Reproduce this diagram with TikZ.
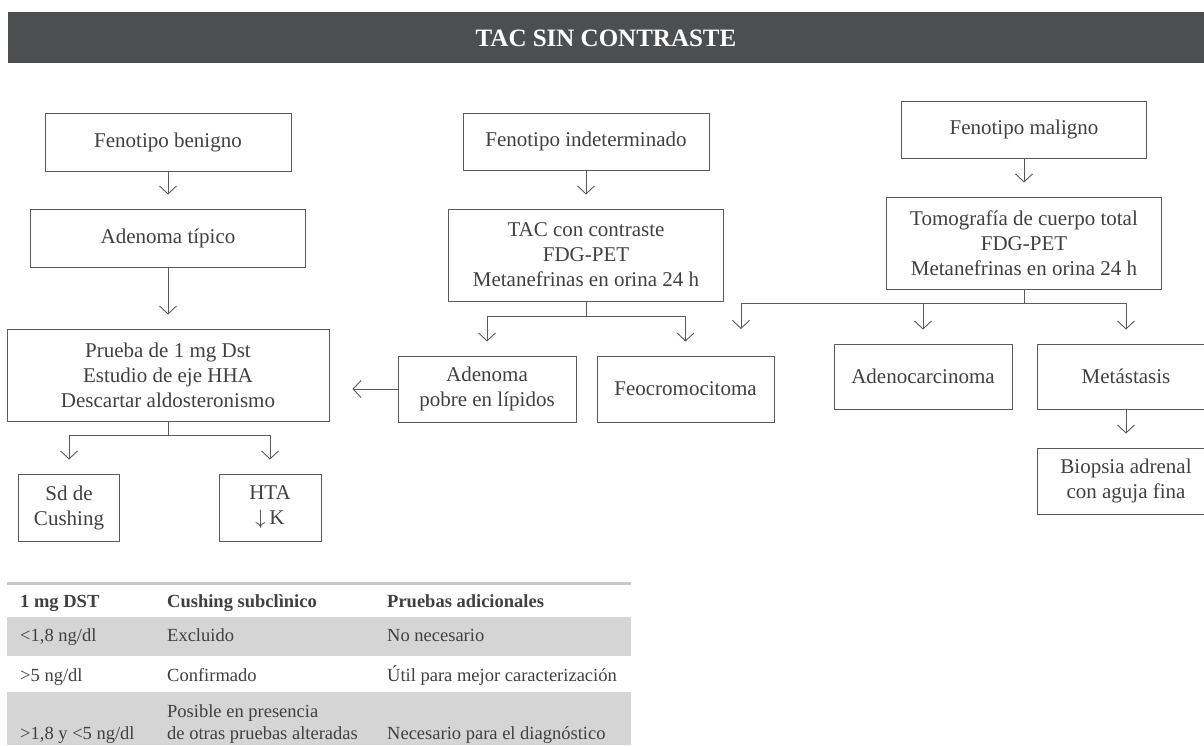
\documentclass[tikz,border=0pt]{standalone}
\usepackage{fontspec}
\setmainfont{Liberation Serif}
\usepackage{tikz}
\usetikzlibrary{arrows.meta,positioning,calc}
\definecolor{textgray}{HTML}{404040}
\definecolor{linegray}{HTML}{5A5A5A}
\definecolor{barfill}{HTML}{4D4E50}
\definecolor{rowfill}{HTML}{D5D5D5}
\definecolor{rulegray}{HTML}{C8C8C8}

\begin{document}
\begin{tikzpicture}[x=1pt,y=-1pt,
  caja/.style={draw=linegray,line width=0.9pt,text=textgray,align=center,inner sep=0pt,font=\fontsize{21}{25}\selectfont},
  flecha/.style={draw=linegray,line width=0.9pt,-{Straight Barb[length=8pt,width=17pt]},shorten >=14pt},
  celda/.style={anchor=base west,inner sep=0pt,text=textgray,align=left,font=\fontsize{18.5}{22}\selectfont}]
\useasboundingbox (0,0) rectangle (1204,745);
\clip (0,0) rectangle (1204,745);
\fill[barfill] (8,12) rectangle (1204,63);
\node[text=white,font=\fontsize{25}{30}\selectfont\bfseries] (titulo) at (606,38) {TAC SIN CONTRASTE};

\node[caja,minimum width=246pt,minimum height=58pt] (benigno) at (168,142) {Fenotipo benigno};
\node[caja,minimum width=275pt,minimum height=58pt] (tipico) at (168,238) {Adenoma típico};
\node[caja,minimum width=322pt,minimum height=92pt] (prueba) at (168,375) {Prueba de 1 mg Dst\\Estudio de eje HHA\\Descartar aldosteronismo};
\node[caja,minimum width=101pt,minimum height=67pt] (cushing) at (69,507.5) {Sd de\\Cushing};
\node[caja,minimum width=102pt,minimum height=67pt] (hta) at (270,507.5) {HTA\\$\downarrow$\,K};

\node[caja,minimum width=246pt,minimum height=57pt] (indet) at (586,141.5) {Fenotipo indeterminado};
\node[caja,minimum width=275pt,minimum height=92pt] (tac) at (586,255) {TAC con contraste\\FDG-PET\\Metanefrinas en orina 24 h};
\node[caja,minimum width=178pt,minimum height=66pt] (pobre) at (487,389) {Adenoma\\pobre en lípidos};
\node[caja,minimum width=177pt,minimum height=66pt] (feo) at (685.5,389) {Feocromocitoma};

\node[caja,minimum width=245pt,minimum height=57pt] (maligno) at (1024,129.5) {Fenotipo maligno};
\node[caja,minimum width=275pt,minimum height=92pt] (tomo) at (1024,243) {Tomografía de cuerpo total\\FDG-PET\\Metanefrinas en orina 24 h};
\node[caja,minimum width=178pt,minimum height=65pt] (adeno) at (923,376.5) {Adenocarcinoma};
\node[caja,minimum width=178pt,minimum height=65pt] (meta) at (1126,376.5) {Metástasis};
\node[caja,minimum width=178pt,minimum height=66pt] (biopsia) at (1126,481) {Biopsia adrenal\\con aguja fina};
\coordinate (libre) at (741,343);

\draw[flecha] (benigno) -- (tipico);
\draw[flecha] (tipico) -- (prueba);
\draw[flecha] (prueba.south) -- ++(0,14) -| (cushing.north);
\draw[flecha] (prueba.south) -- ++(0,14) -| (hta.north);
\draw[flecha,shorten >=23pt] (pobre.west) -- (pobre.west -| prueba.east);

\draw[flecha] (indet) -- (tac);
\draw[flecha] (tac.south) -- ++(0,15) -| (pobre.north);
\draw[flecha] (tac.south) -- ++(0,15) -| (feo.north);

\draw[flecha] (maligno) -- (tomo);
\draw[flecha] (tomo.south) -- ++(0,14) -| (libre);
\draw[flecha] (tomo.south) -- ++(0,14) -| (adeno.north);
\draw[flecha] (tomo.south) -- ++(0,14) -| (meta.north);
\draw[flecha] (meta) -- (biopsia);

\draw[rulegray,line width=3pt] (7,583) -- (631,583);
\fill[rowfill] (7,617) rectangle (631,656);
\fill[rowfill] (7,692) rectangle (631,745);
\node[celda,font=\fontsize{18.5}{22}\selectfont\bfseries] (h1) at (20,607) {1 mg DST};
\node[celda,font=\fontsize{18.5}{22}\selectfont\bfseries] (h2) at (167,607) {Cushing subclìnico};
\node[celda,font=\fontsize{18.5}{22}\selectfont\bfseries] (h3) at (387,607) {Pruebas adicionales};
\node[celda] (a1) at (20,641) {<1,8 ng/dl};
\node[celda] (a2) at (167,641) {Excluido};
\node[celda] (a3) at (387,641) {No necesario};
\node[celda] (b1) at (20,681) {>5 ng/dl};
\node[celda] (b2) at (167,681) {Confirmado};
\node[celda] (b3) at (387,681) {Útil para mejor caracterización};
\node[celda] (c1) at (20,739) {>1,8 y <5 ng/dl};
\node[celda] (c2) at (167,739) {Posible en presencia\\de otras pruebas alteradas};
\node[celda] (c3) at (387,739) {Necesario para el diagnóstico};
\end{tikzpicture}
\end{document}
